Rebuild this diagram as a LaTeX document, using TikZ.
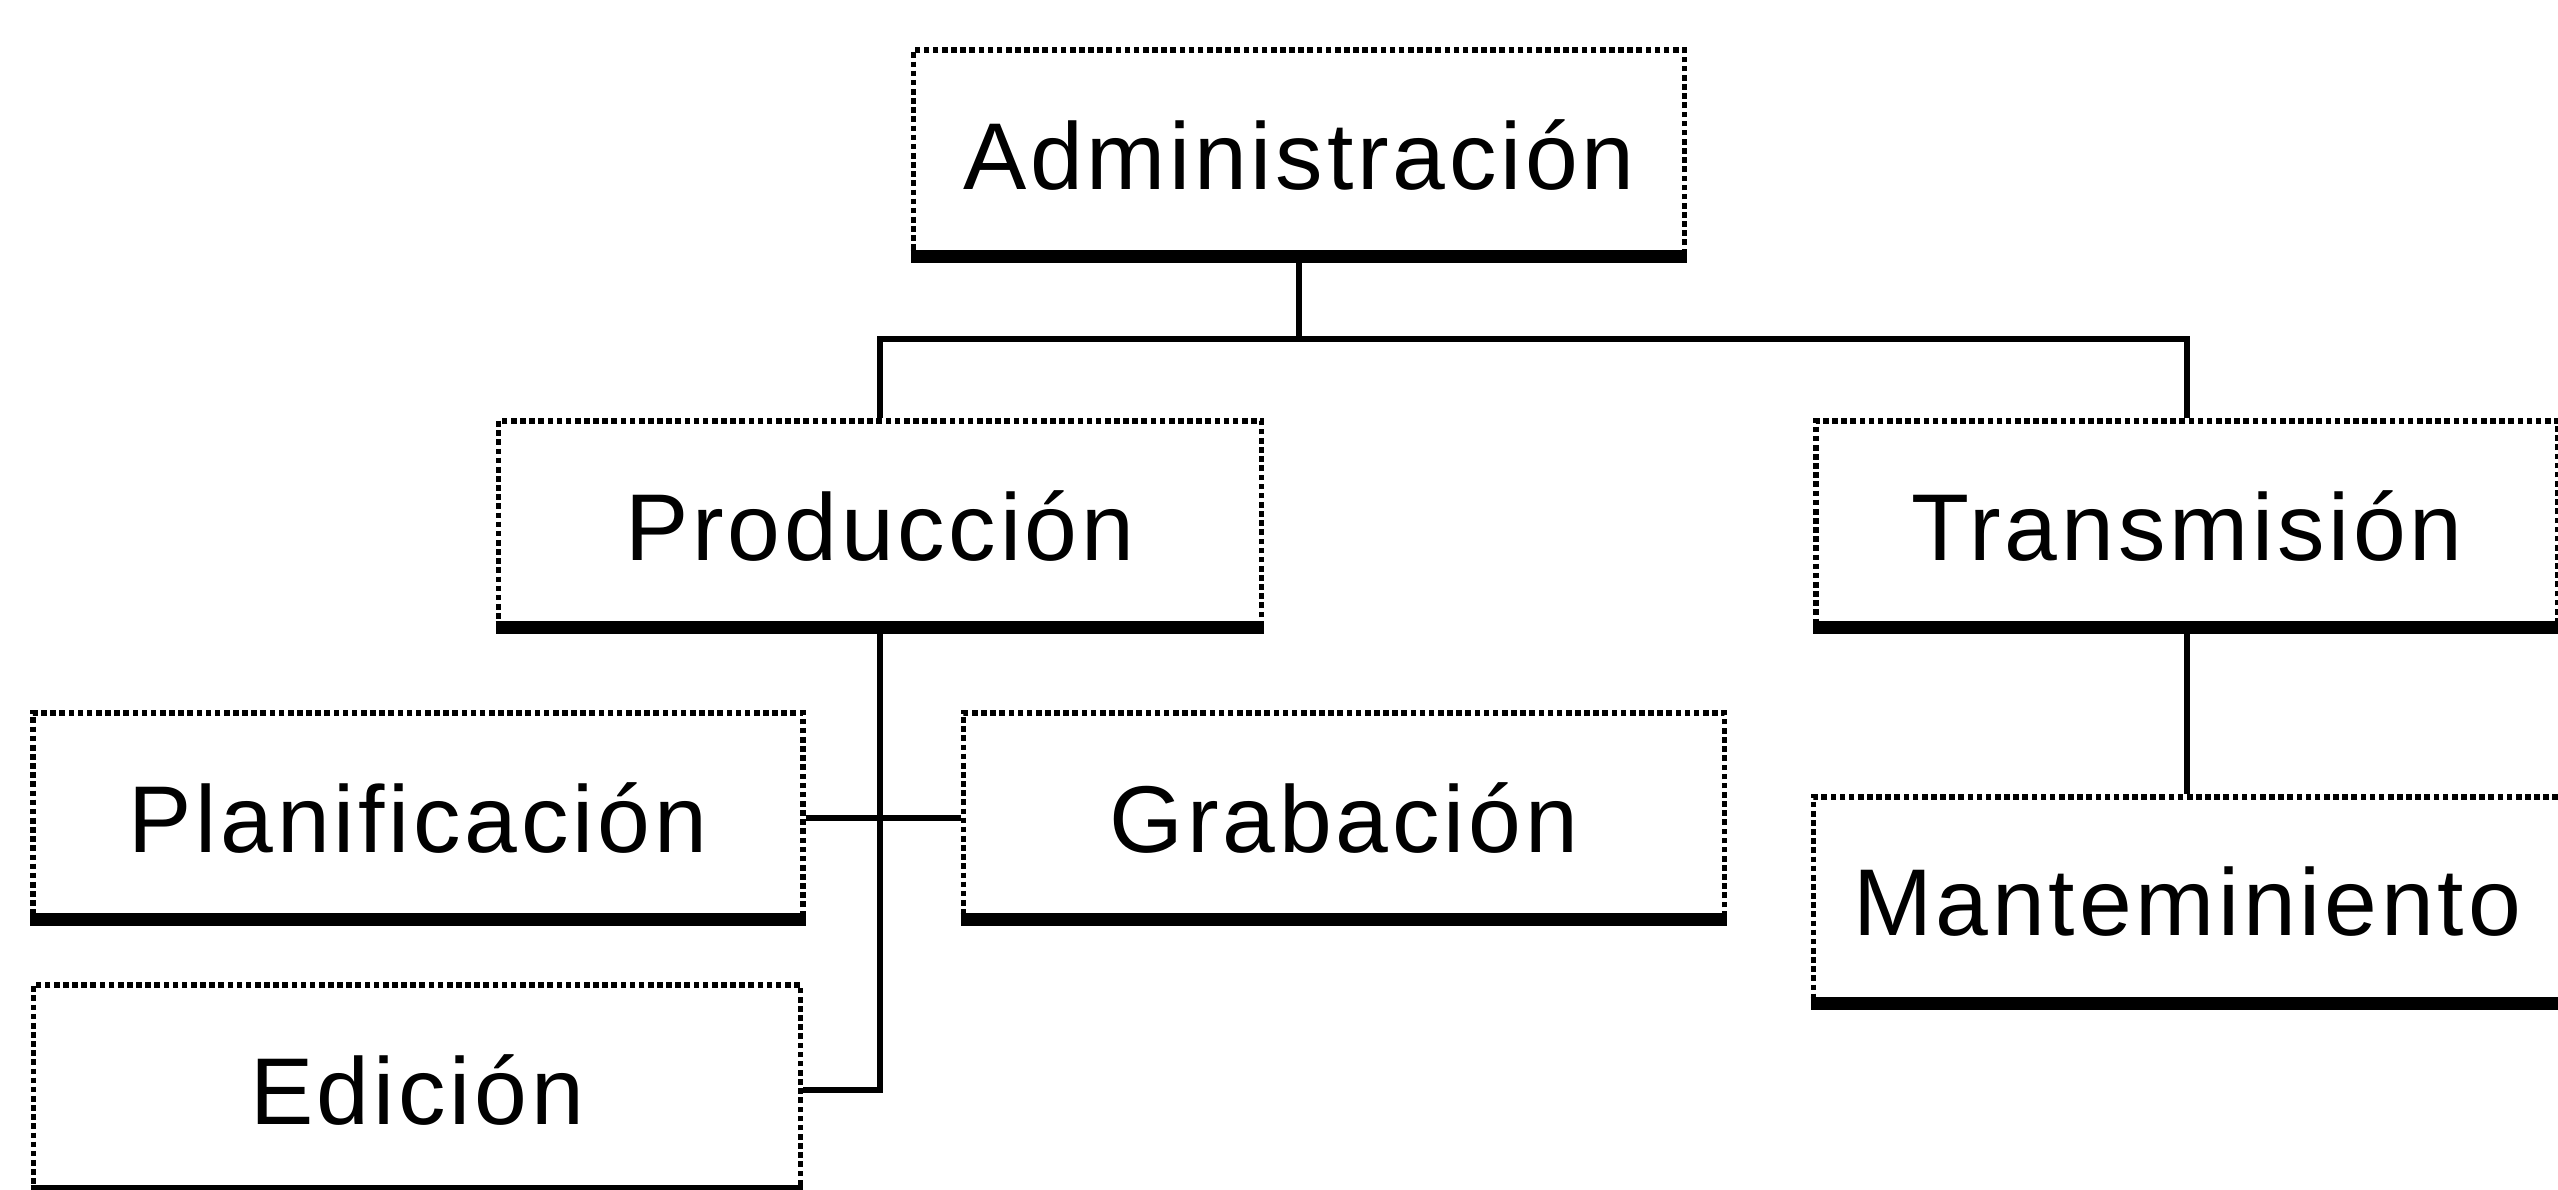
\documentclass[tikz,border=0pt]{standalone}
\usepackage{fontspec}
\setmainfont[LetterSpace=4]{Liberation Sans}
\usetikzlibrary{calc}

\begin{document}
\begin{tikzpicture}[thick,
  org node/.style={rectangle,draw,line width=1.6pt,densely dotted,minimum height=2.1cm,
    inner sep=0pt,font=\fontsize{27}{32}\selectfont},
  link/.style={line width=1.6pt}]

  \useasboundingbox (0,0) rectangle (25.58,11.9);

  \node[org node,minimum width=7.71cm] (adm)   at (12.99,10.35) {Administración};
  \node[org node,minimum width=7.63cm] (prod)  at (8.80,6.64)   {Producción};
  \node[org node,minimum width=7.42cm] (trans) at (21.87,6.64)  {Transmisión};
  \node[org node,minimum width=7.70cm] (plan)  at (4.18,3.72)   {Planificación};
  \node[org node,minimum width=7.61cm] (grab)  at (13.44,3.72)  {Grabación};
  \node[org node,minimum width=7.47cm] (mant)  at (21.87,2.88)  {Manteminiento};
  \node[org node,minimum width=7.67cm] (edic)  at (4.17,1.00)   {Edición};

  % heavy lower edge of every box
  \foreach \n in {adm,prod,trans,plan,grab,mant,edic}
    \draw[line width=3.7pt] ($(\n.south west)+(0,0.06)$) -- ($(\n.south east)+(0,0.06)$);

  \coordinate (split) at (12.99,8.51);

  \draw[link] (adm.south) -- (split);
  \draw[link] (prod.north) |- (split) -| (trans.north);
  \draw[link] (prod.south) |- (edic.east);
  \draw[link] (plan.east) -- (grab.west);
  \draw[link] (trans.south) -- (mant.north);

\end{tikzpicture}
\end{document}
